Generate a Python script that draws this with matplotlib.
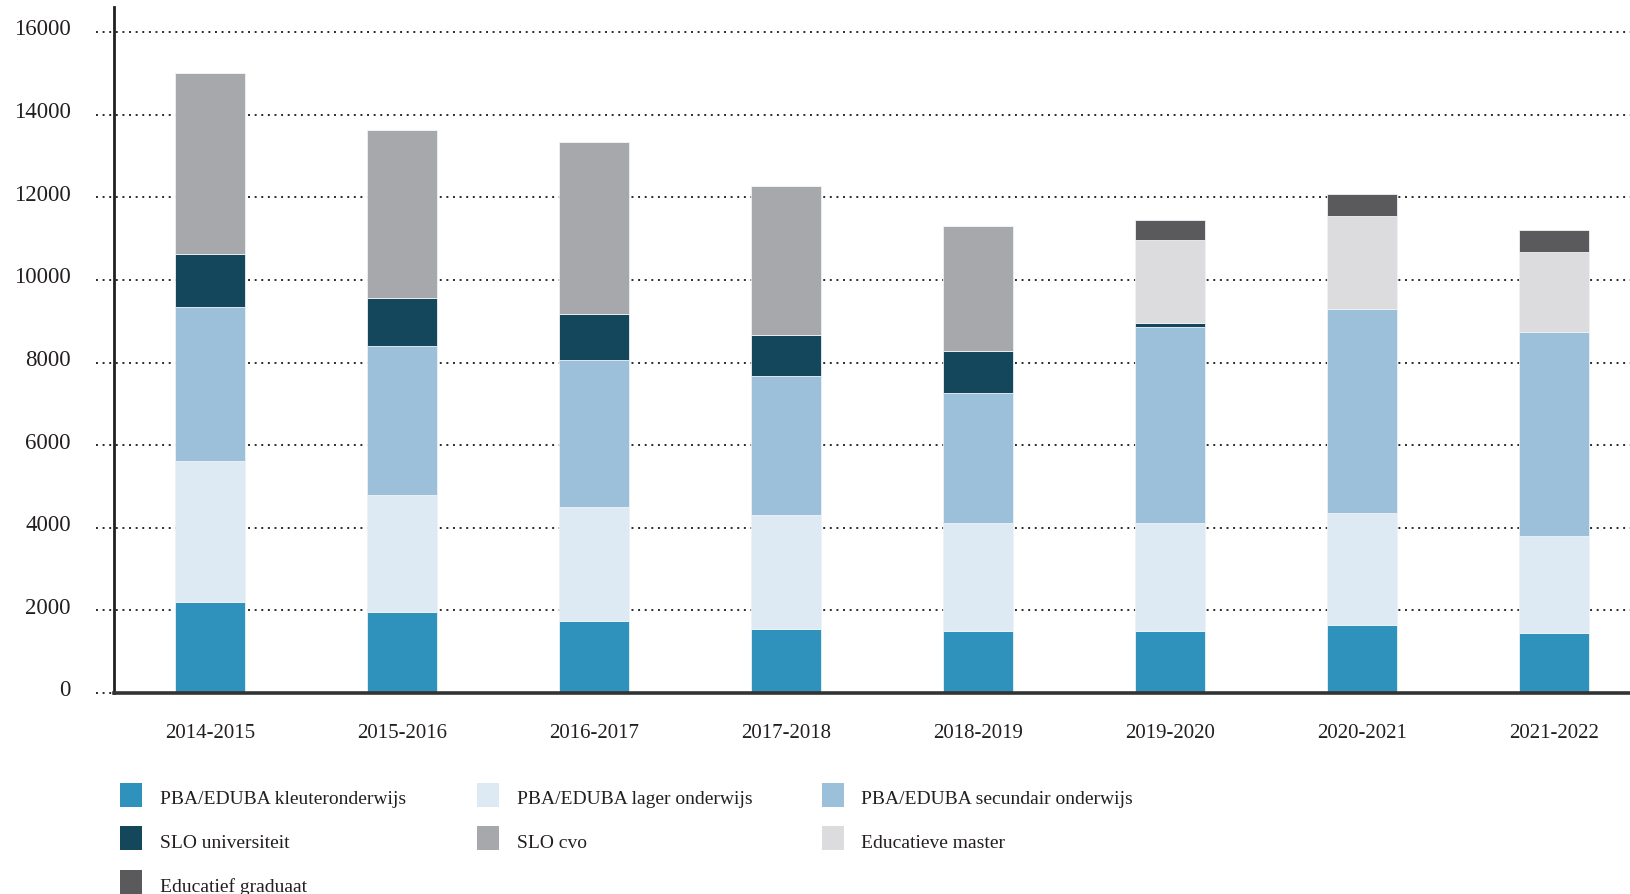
import matplotlib
matplotlib.use("Agg")
import matplotlib.pyplot as plt
from matplotlib.patches import Rectangle
from matplotlib.transforms import ScaledTranslation
import numpy as np

# Academic years
years = ["2014-2015", "2015-2016", "2016-2017", "2017-2018",
         "2018-2019", "2019-2020", "2020-2021", "2021-2022"]

# Student counts per programme (stacked bottom to top)
kleuter = [2210, 1950, 1745, 1550, 1490, 1510, 1640, 1455]
lager = [3415, 2840, 2760, 2750, 2615, 2595, 2710, 2340]
secundair = [3715, 3615, 3565, 3375, 3165, 4745, 4945, 4935]
slo_univ = [1275, 1150, 1100, 990, 1010, 95, 0, 0]
slo_cvo = [4385, 4065, 4175, 3615, 3020, 0, 0, 0]
edu_master = [0, 0, 0, 0, 0, 2030, 2260, 1950]
edu_graduaat = [0, 0, 0, 0, 0, 470, 525, 520]

series_names = ["PBA/EDUBA kleuteronderwijs", "PBA/EDUBA lager onderwijs",
                "PBA/EDUBA secundair onderwijs", "SLO universiteit", "SLO cvo",
                "Educatieve master", "Educatief graduaat"]
series_values = [kleuter, lager, secundair, slo_univ, slo_cvo, edu_master, edu_graduaat]
series_colors = ["#2E92BC", "#DDE9F3", "#9CC0DA", "#14475C", "#A7A8AB",
                 "#DCDCDE", "#5A5A5C"]

yticks = [0, 2000, 4000, 6000, 8000, 10000, 12000, 14000, 16000]

FONT = "Liberation Serif"
TEXT_COLOR = "#231F20"

W, H, DPI = 1631, 895, 100
fig = plt.figure(figsize=(W / DPI, H / DPI), dpi=DPI)
fig.patch.set_facecolor("white")

ax_left, ax_bottom_px, ax_top_px = 114, 694, 8
ax = fig.add_axes([ax_left / W, (H - ax_bottom_px) / H,
                   (W - ax_left) / W, (ax_bottom_px - ax_top_px) / H])

px_per_unit = 661 / 16000.0
ax.set_ylim(0, (ax_bottom_px - ax_top_px) / px_per_unit)

step_px = 192.0
first_center_px = 210.0
x = np.arange(len(years))
x0 = -(first_center_px - ax_left) / step_px
ax.set_xlim(x0, x0 + (W - ax_left) / step_px)

# Dotted guide lines, starting a little left of the axis
for v in yticks:
    ax.plot([-18 / (W - ax_left), 1.0], [v, v], transform=ax.get_yaxis_transform(),
            ls=(0, (1, 2.4)), lw=1.4, color="#2a2a2a", clip_on=False, zorder=0)

# Stacked bars
bottom = np.zeros(len(years))
bar_w = 70 / step_px
for name, vals, col in zip(series_names, series_values, series_colors):
    vals = np.asarray(vals, dtype=float)
    ax.bar(x, vals, bottom=bottom, width=bar_w, color=col, edgecolor="#eef2f5",
           linewidth=0.6, zorder=2, label=name)
    bottom += vals

# Axes styling
for side in ("top", "right"):
    ax.spines[side].set_visible(False)
ax.spines["left"].set_linewidth(2.0)
ax.spines["left"].set_color(TEXT_COLOR)
ax.spines["bottom"].set_linewidth(2.6)
ax.spines["bottom"].set_color("#333333")
ax.spines["left"].set_zorder(5)
ax.spines["bottom"].set_zorder(5)

ax.set_yticks(yticks)
ax.set_yticklabels([str(v) for v in yticks], fontfamily=FONT, fontsize=16.5,
                   color=TEXT_COLOR)
ax.tick_params(axis="y", length=0, pad=31)
for lab in ax.get_yticklabels():
    lab.set_transform(lab.get_transform() + ScaledTranslation(0, 4 / 72, fig.dpi_scale_trans))

ax.set_xticks(x)
ax.set_xticklabels(years, fontfamily=FONT, fontsize=15, color=TEXT_COLOR)
ax.tick_params(axis="x", length=0, pad=21.5)

# Legend: three columns of colour squares with labels
col_sq_x = [120, 477, 822]
col_txt_x = [160, 517, 861]
row_sq_top = [784, 827, 871]
row_txt_y = [800, 844, 887]
sq_w, sq_h = 22, 24
for i, (name, col) in enumerate(zip(series_names, series_colors)):
    r, c = divmod(i, 3)
    fig.add_artist(Rectangle((col_sq_x[c] / W, 1 - (row_sq_top[r] + sq_h) / H),
                             sq_w / W, sq_h / H, transform=fig.transFigure,
                             facecolor=col, edgecolor="none"))
    fig.text(col_txt_x[c] / W, 1 - row_txt_y[r] / H, name, fontfamily=FONT,
             fontsize=14, color=TEXT_COLOR, va="center", ha="left")

fig.savefig("out.png", dpi=DPI, facecolor="white")
